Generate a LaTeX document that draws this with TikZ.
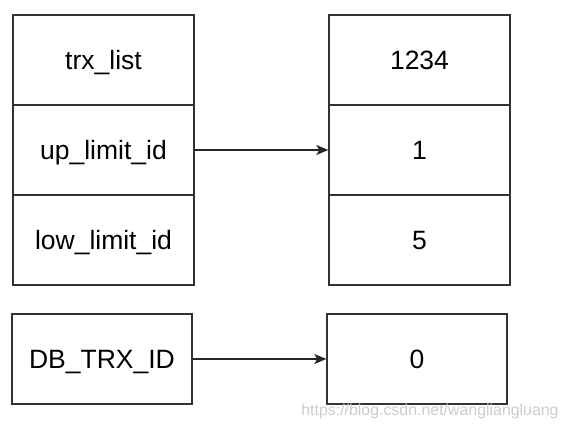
\documentclass[tikz,border=0pt]{standalone}
\usepackage{fontspec}
\setmainfont{Liberation Sans}
\usetikzlibrary{arrows.meta}
\begin{document}
\begin{tikzpicture}[x=1pt,y=-1pt,
  cell/.style={draw=black!80,line width=1.4pt,minimum width=181pt,minimum height=90pt,inner sep=0pt,text height=19pt,text depth=0pt,font=\fontsize{26.5}{30}\selectfont},
  conn/.style={line width=1.3pt,draw=black!85,-{Stealth[length=12pt,width=10pt,inset=3pt]}}]
\useasboundingbox (0,0) rectangle (568,428);
\node[cell] (trx) at (103.5,60) {trx\_list};
\node[cell] (up) at (103.5,150) {up\_limit\_id};
\node[cell] (low) at (103.5,240) {low\_limit\_id};
\node[cell] (v1234) at (419.5,60) {1234};
\node[cell] (v1) at (419.5,150) {1};
\node[cell] (v5) at (419.5,240) {5};
\node[cell,minimum width=180pt] (db) at (102,359) {DB\_TRX\_ID};
\node[cell,minimum width=180pt] (v0) at (417,359) {0};
\draw[conn] (up.east) -- (v1.west);
\draw[conn] (db.east) -- (v0.west);
\node[text=gray!40,font=\fontsize{15.9}{18}\selectfont,inner sep=0pt] (wm) at (430,411) {https://blog.csdn.net/wangliangluang};
\end{tikzpicture}
\end{document}
